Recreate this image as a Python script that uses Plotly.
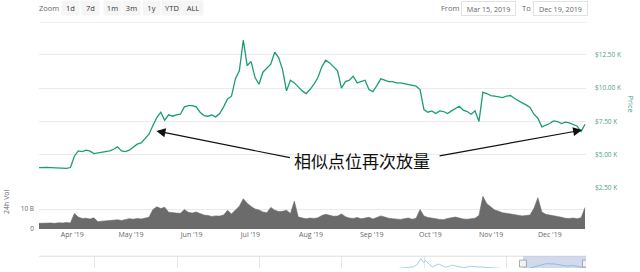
import pandas as pd
import plotly.graph_objects as go

# ---- data -------------------------------------------------------------
start_date, end_date = "2019-03-15", "2019-12-19"

# BTC price, thousands of USD (roughly every two days, Mar 15 -> Dec 19 2019)
price_k = [
    4.05, 4.03, 4.06, 4.05, 4.02, 4.04, 4.00, 3.98, 4.05, 4.90,
    5.30, 5.25, 5.35, 5.28, 5.10, 5.15, 5.20, 5.28, 5.30, 5.42,
    5.60, 5.30, 5.25, 5.35, 5.60, 5.80, 5.90, 6.20, 6.55, 7.20,
    7.80, 8.20, 7.60, 8.00, 7.90, 8.00, 8.05, 8.60, 8.70, 8.70,
    8.60, 8.20, 7.95, 7.90, 8.00, 7.85, 8.10, 8.60, 9.20, 9.40,
    10.70, 11.30, 13.60, 11.70, 12.00, 10.80, 10.30, 11.20, 11.50, 11.80,
    12.70, 12.30, 11.40, 9.80, 10.60, 10.40, 10.10, 9.80, 9.60, 9.90,
    10.30, 10.80, 11.60, 12.10, 11.90, 11.60, 11.30, 10.00, 10.50, 10.60,
    10.90, 10.40, 10.50, 10.60, 9.90, 9.75, 10.20, 10.70, 10.60, 10.50,
    10.50, 10.40, 10.40, 10.35, 10.30, 10.20, 10.15, 9.90, 8.40, 8.20,
    8.30, 8.10, 8.30, 8.25, 8.10, 8.30, 8.50, 8.65, 8.35, 8.25,
    8.05, 8.30, 7.50, 9.70, 9.60, 9.45, 9.40, 9.35, 9.30, 9.40,
    9.45, 9.25, 9.05, 8.90, 8.75, 8.55, 8.05, 7.75, 7.10, 7.20,
    7.35, 7.55, 7.50, 7.35, 7.45, 7.40, 7.30, 7.15, 6.75, 7.30,
]

# 24h traded volume, billions of USD (same dates)
volume_b = [
    2.8, 2.9, 2.7, 3.0, 2.8, 3.1, 3.0, 3.2, 3.0, 7.8,
    6.0, 5.3, 5.4, 5.0, 5.6, 3.6, 3.9, 4.1, 4.2, 4.5,
    4.6, 4.3, 4.8, 5.2, 4.9, 5.3, 5.0, 5.6, 5.9, 9.8,
    11.2, 10.3, 11.0, 8.5, 8.1, 8.0, 7.9, 9.8, 8.4, 8.0,
    8.6, 7.6, 7.0, 6.8, 6.3, 6.6, 6.5, 7.0, 9.4, 7.6,
    9.7, 11.5, 15.3, 13.0, 11.4, 10.1, 9.6, 8.6, 8.2, 10.9,
    9.5, 8.8, 8.9, 9.5, 7.8, 14.0, 6.0, 5.4, 5.1, 5.5,
    5.3, 5.6, 6.8, 7.4, 6.9, 6.4, 6.5, 7.6, 6.2, 5.5,
    5.3, 5.8, 5.1, 5.4, 5.9, 5.0, 5.6, 6.6, 6.0, 5.4,
    5.2, 5.0, 4.8, 5.2, 5.5, 4.9, 5.4, 9.8, 6.5, 5.8,
    5.6, 5.2, 4.8, 4.7, 5.3, 5.6, 6.0, 5.5, 5.0, 4.9,
    5.1, 5.4, 6.8, 16.5, 12.8, 11.0, 9.6, 9.0, 8.2, 7.9,
    7.6, 7.3, 6.9, 6.6, 6.8, 7.0, 10.5, 15.8, 8.6, 7.4,
    7.0, 6.5, 6.3, 5.9, 5.4, 5.3, 5.5, 5.2, 5.6, 10.8,
]

dates = pd.date_range(start_date, end_date, periods=len(price_k))

# full-history series shown in the navigator strip
nav_dates = [
    "2013-04-28", "2013-12-01", "2014-06-01", "2015-01-15", "2016-01-01",
    "2016-12-01", "2017-05-01", "2017-08-15", "2017-10-15", "2017-11-15",
    "2017-12-01", "2017-12-17", "2017-12-30", "2018-01-06", "2018-02-05",
    "2018-03-05", "2018-04-05", "2018-05-05", "2018-06-25", "2018-07-25",
    "2018-09-01", "2018-11-14", "2018-12-15", "2019-02-15", "2019-04-10",
    "2019-05-15", "2019-06-26", "2019-08-06", "2019-09-25", "2019-10-26",
    "2019-11-25", "2019-12-19",
]
nav_price_k = [
    0.14, 1.00, 0.60, 0.25, 0.43,
    0.75, 1.45, 4.20, 5.70, 7.50,
    10.9, 19.5, 13.5, 17.0, 6.9,
    11.5, 6.8, 9.8, 6.2, 8.2,
    7.2, 5.7, 3.2, 3.6, 5.2,
    8.0, 12.0, 11.5, 8.4, 9.3,
    7.1, 7.1,
]

price_ticks = [2.5, 5, 7.5, 10, 12.5]
price_tick_text = ["$2.50 K", "$5.00 K", "$7.50 K", "$10.00 K", "$12.50 K"]
volume_ticks = [0, 10]
volume_tick_text = ["0", "10 B"]
zoom_buttons = ["1d", "7d", "1m", "3m", "1y", "YTD", "ALL"]
caption = "相似点位再次放量"

# ---- layout helpers (pixel -> paper) ----------------------------------
W, H = 640, 272
def fx(px):
    return px / W
def fy(py):
    return 1 - py / H

FONT = "Open Sans"
GRID = "#ebebeb"
x_dom = [fx(39), fx(586)]
x_end = "2019-12-19 12:00"

fig = go.Figure()
fig.add_trace(go.Scatter(
    x=dates, y=price_k, xaxis="x", yaxis="y", mode="lines",
    line=dict(color="#1a9c77", width=1.3), hoverinfo="skip"))
fig.add_trace(go.Scatter(
    x=dates, y=volume_b, xaxis="x2", yaxis="y2", mode="lines",
    fill="tozeroy", fillcolor="#6b6b6b",
    line=dict(color="#6b6b6b", width=0.6), hoverinfo="skip"))
fig.add_trace(go.Scatter(
    x=nav_dates, y=nav_price_k, xaxis="x3", yaxis="y3", mode="lines",
    line=dict(color="#a9cfe4", width=1), hoverinfo="skip"))

fig.update_layout(
    width=W, height=H, margin=dict(l=0, r=0, t=0, b=0),
    paper_bgcolor="white", plot_bgcolor="white", showlegend=False,
    font=dict(family=FONT, size=7, color="#666666"),
    xaxis=dict(domain=x_dom, range=[start_date, x_end], anchor="y",
               showticklabels=False, showgrid=False, zeroline=False),
    yaxis=dict(domain=[fy(193), fy(24)], range=[2.352, 14.843], anchor="x",
               side="right", tickmode="array", tickvals=price_ticks,
               ticktext=price_tick_text, ticks="", ticklabelstandoff=8,
               tickfont=dict(size=6.5, color="#4f9e8a"),
               showgrid=True, gridcolor=GRID, zeroline=False),
    xaxis2=dict(domain=x_dom, matches="x", anchor="y2",
                tickformat="%b '%y", dtick="M1", tick0="2019-04-01",
                ticks="", showgrid=False, zeroline=False,
                tickfont=dict(size=7, color="#666666")),
    yaxis2=dict(domain=[fy(232.3), fy(190)], range=[0, 21.15], anchor="x2",
                tickmode="array", tickvals=volume_ticks,
                ticktext=volume_tick_text, ticks="", ticklabelstandoff=4,
                tickfont=dict(size=6.5, color="#666666"),
                showgrid=True, gridcolor=GRID, zeroline=False),
    xaxis3=dict(domain=x_dom, range=["2013-04-28", x_end], anchor="y3",
                showticklabels=False, ticks="", dtick="M12",
                tick0="2014-01-01", showgrid=True, gridcolor="#e6e6e6",
                zeroline=False),
    yaxis3=dict(domain=[0, fy(260)], range=[5.7, 22.9], anchor="x3",
                visible=False),
)

shapes = [
    # rule under the toolbar
    dict(type="line", xref="paper", yref="paper", x0=fx(40), x1=fx(587),
         y0=fy(22.7), y1=fy(22.7), line=dict(color="#f0f0f0", width=1)),
    # navigator outline
    dict(type="line", xref="paper", yref="paper", x0=x_dom[0], x1=x_dom[1],
         y0=fy(260), y1=fy(260), line=dict(color="#dddddd", width=1)),
    # navigator selection mask
    dict(type="rect", xref="x3", yref="paper", x0=start_date, x1=x_end,
         y0=0, y1=fy(260), fillcolor="rgba(102,133,194,0.3)",
         line=dict(width=0), layer="above"),
]
for hx in (start_date, x_end):
    shapes.append(dict(type="rect", xref="x3", yref="paper",
                       xsizemode="pixel", xanchor=hx, x0=-3.5, x1=3.5,
                       y0=fy(271), y1=fy(264), fillcolor="#f2f2f2",
                       line=dict(color="#999999", width=0.8), layer="above"))
fig.update_layout(shapes=shapes)

ann = []
def label(px, py, text, size=7, color="#666666", **kw):
    ann.append(dict(x=fx(px), y=fy(py), xref="paper", yref="paper",
                    xanchor="center", yanchor="middle",
                    text=text, showarrow=False,
                    font=dict(family=kw.pop("family", FONT), size=size,
                              color=color), **kw))

# range selector toolbar
label(49, 8.5, "Zoom", 7.5)
button_x = [70, 90, 112, 131, 151, 172, 193]
for bx, name in zip(button_x, zoom_buttons):
    label(bx, 8.5, name, 7.5, "#333333", bgcolor="#f5f5f5",
          width=18 if len(name) > 2 else 15, height=12)

# date inputs
label(450, 8.5, "From", 7.5)
label(488.5, 8.5, "Mar 15, 2019", 7.2, bordercolor="#e2e2e2",
      borderwidth=1, bgcolor="white", width=51, height=11)
label(526, 8.5, "To", 7.5)
label(560.5, 8.5, "Dec 19, 2019", 7.2, bordercolor="#e2e2e2",
      borderwidth=1, bgcolor="white", width=51, height=11)

# axis titles
label(7, 205, "24h Vol", 7, textangle=-90)
label(631, 105, "Price", 7.5, "#3a9c85", textangle=90)

# caption and pointers
label(362, 163, caption, 17, "#111111", family="Noto Sans CJK SC")
arrow = dict(text="", showarrow=True, xref="x", yref="y", axref="pixel",
             ayref="pixel", arrowhead=2, arrowsize=1.5, arrowwidth=1.2,
             arrowcolor="#111111", standoff=0, startstandoff=0)
ann.append(dict(arrow, x="2019-05-14", y=6.79, ax=135, ay=27))
ann.append(dict(arrow, x="2019-12-17 12:00", y=6.86, ax=-144, ay=26))

fig.update_layout(annotations=ann)
fig.write_html("out.html")
